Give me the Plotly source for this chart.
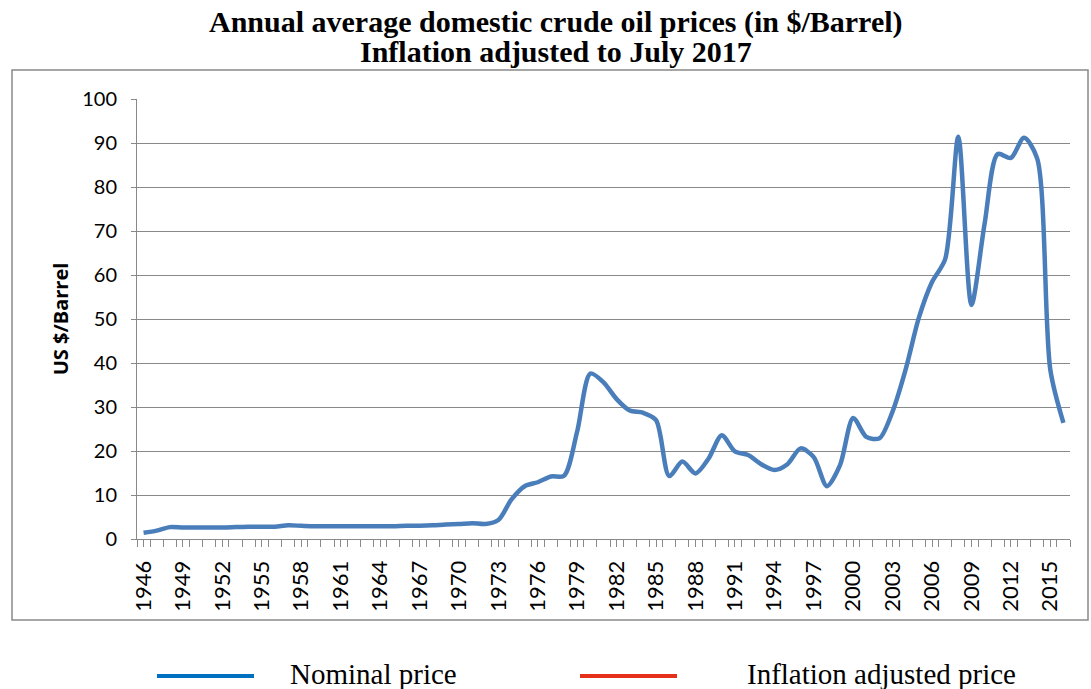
import plotly.graph_objects as go

years = list(range(1946, 2017))
nominal_price = [
    1.4, 1.9, 2.7, 2.6, 2.6, 2.6, 2.6, 2.7, 2.8, 2.8,
    2.8, 3.1, 3.0, 2.9, 2.9, 2.9, 2.9, 2.9, 2.9, 2.9,
    3.0, 3.0, 3.1, 3.3, 3.4, 3.6, 3.4, 4.3, 9.0, 12.0,
    12.9, 14.2, 14.4, 24.5, 37.6, 35.6, 31.8, 29.2, 28.7, 27.0,
    14.3, 17.6, 14.9, 18.3, 23.6, 19.9, 19.1, 17.0, 15.7, 17.0,
    20.6, 18.6, 12.0, 16.8, 27.5, 23.2, 22.9, 29.0, 38.6, 50.3,
    58.4, 63.6, 91.4, 53.2, 71.6, 87.5, 86.6, 91.2, 86.5, 38.5,
    26.4,
]
tick_years = list(range(1946, 2017, 3))
title_lines = ["Annual average domestic crude oil prices (in $/Barrel)",
               "Inflation adjusted to July 2017"]
legend_names = ["Nominal price", "Inflation adjusted price"]
legend_colors = ["#0070C0", "#E5311A"]

# plot-area geometry in pixels (for placing paper-referenced decorations)
L, R, T, B = 137, 1070, 99, 539
W, H = R - L, B - T


def px(x):
    return (x - L) / W


def py(y):
    return (B - y) / H


fig = go.Figure()
fig.add_trace(go.Scatter(
    x=years, y=nominal_price, mode="lines",
    line=dict(color="#4A7EBB", width=4.5, shape="spline", smoothing=0.8),
    showlegend=False, name=legend_names[0],
))

axis_grey = "#898989"
fig.update_layout(
    width=1091, height=689,
    paper_bgcolor="white", plot_bgcolor="white",
    margin=dict(l=L, r=1091 - R, t=T, b=689 - B),
    showlegend=False,
    xaxis=dict(
        range=[1945.5, 2016.5],
        tickmode="array", tickvals=tick_years,
        ticktext=[str(y) for y in tick_years],
        tickangle=-90,
        showgrid=False, zeroline=False,
        showline=True, linecolor=axis_grey, linewidth=1,
        ticks="outside", ticklen=7, tickcolor=axis_grey,
        ticklabelstandoff=5,
        minor=dict(tickmode="linear", tick0=1945.5, dtick=1,
                   ticks="outside", ticklen=7, tickcolor=axis_grey, showgrid=False),
        tickfont=dict(family="Lato", size=22, color="black"),
    ),
    yaxis=dict(
        range=[0, 100], dtick=10, tick0=0,
        showgrid=True, gridcolor=axis_grey, gridwidth=1,
        zeroline=False,
        showline=True, linecolor=axis_grey, linewidth=1,
        ticks="outside", ticklen=5, tickcolor=axis_grey,
        ticklabelstandoff=10,
        tickfont=dict(family="Lato", size=20, color="black"),
        title=dict(text="<b>US $/Barrel</b>", standoff=8,
                   font=dict(family="Open Sans", size=20, color="black")),
    ),
)

# title (two lines, placed individually to control line spacing)
for text, yc in zip(title_lines, [22, 52]):
    fig.add_annotation(xref="paper", yref="paper", x=px(556), y=py(yc),
                       xanchor="center", yanchor="middle", showarrow=False,
                       text="<b>" + text + "</b>",
                       font=dict(family="Liberation Serif", size=30, color="black"))

# outer chart border
fig.add_shape(type="rect", xref="paper", yref="paper",
              x0=px(12), x1=px(1088), y0=py(620), y1=py(70),
              line=dict(color=axis_grey, width=1.5), fillcolor="rgba(0,0,0,0)")

# legend (drawn manually to reproduce the long line samples)
for i, (name, col) in enumerate(zip(legend_names, legend_colors)):
    x_line0 = [157, 580][i]
    x_text = [288, 745][i]
    fig.add_shape(type="line", xref="paper", yref="paper",
                  x0=px(x_line0), x1=px(x_line0 + 97),
                  y0=py(676), y1=py(676), line=dict(color=col, width=4))
    fig.add_annotation(xref="paper", yref="paper",
                       x=px(x_text), y=py(674),
                       xanchor="left", yanchor="middle", showarrow=False,
                       text=name,
                       font=dict(family="Liberation Serif", size=29, color="black"))

fig.write_html("out.html", config={"displayModeBar": False},
               post_script="document.body.style.margin='0';")
